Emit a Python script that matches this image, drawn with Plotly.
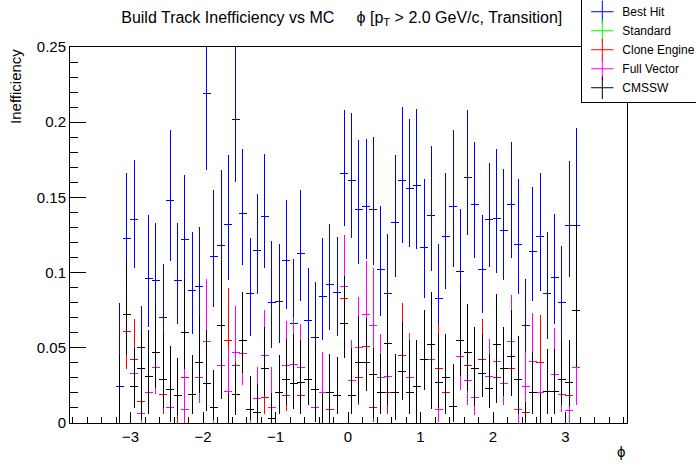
import plotly.graph_objs as go

# ---------------- DATA ----------------
# phi bin centres, 64 bins of 0.1 rad
phi = [-3.15, -3.05, -2.95, -2.85, -2.75, -2.65, -2.55, -2.45, -2.35, -2.25,
       -2.15, -2.05, -1.95, -1.85, -1.75, -1.65, -1.55, -1.45, -1.35, -1.25,
       -1.15, -1.05, -0.95, -0.85, -0.75, -0.65, -0.55, -0.45, -0.35, -0.25,
       -0.15, -0.05, 0.05, 0.15, 0.25, 0.35, 0.45, 0.55, 0.65, 0.75,
       0.85, 0.95, 1.05, 1.15, 1.25, 1.35, 1.45, 1.55, 1.65, 1.75,
       1.85, 1.95, 2.05, 2.15, 2.25, 2.35, 2.45, 2.55, 2.65, 2.75,
       2.85, 2.95, 3.05, 3.15]

# Best Hit
bh_val = [0.024, 0.123, 0.135, 0.050, 0.096, 0.095, 0.070, 0.148, 0.095, 0.122,
          0.088, 0.091, 0.219, 0.111, 0.118, 0.132, 0.202, 0.139, 0.086, 0.115,
          0.137, 0.080, 0.081, 0.108, 0.066, 0.113, 0.068, 0.057, 0.084, 0.092,
          0.087, 0.166, 0.161, 0.142, 0.144, 0.142, 0.102, 0.086, 0.133, 0.161,
          0.156, 0.158, 0.117, 0.138, 0.083, 0.124, 0.144, 0.101, 0.163, 0.145,
          0.102, 0.135, 0.136, 0.128, 0.145, 0.119, 0.065, 0.114, 0.124, 0.086,
          0.097, 0.080, 0.131, 0.131]
bh_lo = [0.004, 0.085, 0.103, 0.028, 0.064, 0.062, 0.045, 0.108, 0.066, 0.088,
         0.059, 0.062, 0.168, 0.077, 0.085, 0.095, 0.160, 0.105, 0.058, 0.086,
         0.103, 0.050, 0.053, 0.076, 0.040, 0.081, 0.045, 0.040, 0.055, 0.062,
         0.058, 0.131, 0.123, 0.106, 0.109, 0.105, 0.071, 0.055, 0.097, 0.120,
         0.117, 0.116, 0.083, 0.101, 0.050, 0.089, 0.104, 0.070, 0.125, 0.110,
         0.073, 0.104, 0.100, 0.095, 0.110, 0.086, 0.040, 0.081, 0.088, 0.056,
         0.066, 0.050, 0.097, 0.075]
bh_hi = [0.080, 0.166, 0.175, 0.078, 0.138, 0.133, 0.106, 0.195, 0.133, 0.165,
         0.127, 0.130, 0.270, 0.155, 0.168, 0.178, 0.250, 0.182, 0.123, 0.152,
         0.179, 0.121, 0.119, 0.148, 0.109, 0.155, 0.103, 0.094, 0.123, 0.132,
         0.124, 0.208, 0.206, 0.188, 0.189, 0.190, 0.144, 0.126, 0.178, 0.210,
         0.202, 0.209, 0.162, 0.184, 0.119, 0.166, 0.195, 0.142, 0.208, 0.187,
         0.138, 0.173, 0.182, 0.169, 0.187, 0.162, 0.096, 0.157, 0.166, 0.127,
         0.139, 0.118, 0.174, 0.196]

# Clone Engine
ce_val = [0.000, 0.061, 0.042, 0.014, 0.020, 0.037, 0.019, 0.010, 0.000, 0.030,
          0.019, 0.030, 0.054, 0.000, 0.038, 0.055, 0.038, 0.055, 0.000, 0.007,
          0.017, 0.010, 0.020, 0.018, 0.026, 0.018, 0.029, 0.022, 0.020, 0.009,
          0.018, 0.083, 0.028, 0.030, 0.051, 0.010, 0.020, 0.020, 0.020, 0.045,
          0.020, 0.000, 0.042, 0.052, 0.036, 0.020, 0.011, 0.055, 0.038, 0.036,
          0.042, 0.023, 0.030, 0.036, 0.036, 0.029, 0.007, 0.020, 0.040, 0.021,
          0.021, 0.029, 0.018, 0.037]
ce_lo = [0.000, 0.036, 0.020, 0.003, 0.008, 0.019, 0.006, 0.001, 0.000, 0.012,
         0.006, 0.013, 0.035, 0.000, 0.017, 0.021, 0.020, 0.033, 0.000, 0.000,
         0.006, 0.002, 0.006, 0.008, 0.009, 0.006, 0.012, 0.002, 0.005, 0.000,
         0.006, 0.050, 0.010, 0.012, 0.030, 0.001, 0.006, 0.006, 0.002, 0.025,
         0.006, 0.000, 0.022, 0.012, 0.020, 0.006, 0.001, 0.031, 0.020, 0.011,
         0.025, 0.010, 0.013, 0.018, 0.018, 0.006, 0.000, 0.006, 0.020, 0.006,
         0.006, 0.012, 0.007, 0.012]
ce_hi = [0.040, 0.090, 0.069, 0.035, 0.040, 0.060, 0.045, 0.030, 0.030, 0.055,
         0.040, 0.050, 0.080, 0.015, 0.060, 0.090, 0.060, 0.080, 0.010, 0.026,
         0.030, 0.030, 0.045, 0.030, 0.055, 0.035, 0.055, 0.050, 0.047, 0.020,
         0.044, 0.120, 0.055, 0.050, 0.080, 0.030, 0.046, 0.040, 0.046, 0.080,
         0.050, 0.007, 0.070, 0.085, 0.065, 0.040, 0.039, 0.090, 0.060, 0.060,
         0.069, 0.046, 0.050, 0.060, 0.060, 0.055, 0.020, 0.045, 0.072, 0.049,
         0.049, 0.055, 0.035, 0.060]

# Standard sits exactly under Clone Engine in the picture
st_val = list(ce_val)
st_lo = list(ce_lo)
st_hi = list(ce_hi)

# Full Vector
fv_val = [0.000, 0.072, 0.033, 0.006, 0.020, 0.037, 0.029, 0.010, 0.018, 0.009,
          0.019, 0.030, 0.054, 0.000, 0.038, 0.021, 0.047, 0.046, 0.000, 0.016,
          0.045, 0.010, 0.020, 0.038, 0.039, 0.037, 0.029, 0.010, 0.020, 0.020,
          0.018, 0.091, 0.028, 0.050, 0.072, 0.065, 0.030, 0.031, 0.020, 0.034,
          0.030, 0.024, 0.042, 0.042, 0.009, 0.030, 0.011, 0.044, 0.028, 0.017,
          0.033, 0.031, 0.041, 0.026, 0.054, 0.009, 0.024, 0.041, 0.020, 0.021,
          0.032, 0.019, 0.008, 0.037]
fv_lo = [0.000, 0.050, 0.015, 0.000, 0.008, 0.019, 0.012, 0.001, 0.006, 0.000,
         0.006, 0.013, 0.035, 0.000, 0.017, 0.005, 0.030, 0.025, 0.000, 0.004,
         0.020, 0.002, 0.006, 0.020, 0.020, 0.020, 0.012, 0.001, 0.005, 0.002,
         0.006, 0.060, 0.010, 0.030, 0.045, 0.040, 0.015, 0.015, 0.002, 0.015,
         0.015, 0.002, 0.022, 0.020, 0.001, 0.008, 0.001, 0.022, 0.012, 0.005,
         0.017, 0.015, 0.022, 0.012, 0.030, 0.000, 0.000, 0.020, 0.005, 0.006,
         0.015, 0.007, 0.000, 0.012]
fv_hi = [0.030, 0.100, 0.050, 0.020, 0.040, 0.060, 0.050, 0.030, 0.040, 0.036,
         0.040, 0.050, 0.096, 0.020, 0.060, 0.050, 0.078, 0.060, 0.010, 0.037,
         0.075, 0.037, 0.045, 0.068, 0.070, 0.066, 0.055, 0.030, 0.047, 0.045,
         0.044, 0.125, 0.055, 0.084, 0.108, 0.103, 0.059, 0.050, 0.046, 0.067,
         0.060, 0.050, 0.070, 0.065, 0.025, 0.055, 0.039, 0.070, 0.050, 0.035,
         0.055, 0.056, 0.060, 0.045, 0.085, 0.025, 0.047, 0.073, 0.040, 0.049,
         0.063, 0.035, 0.025, 0.060]

# CMSSW
cm_val = [0.000, 0.072, 0.024, 0.036, 0.031, 0.047, 0.029, 0.022, 0.018, 0.060,
          0.019, 0.040, 0.026, 0.010, 0.065, 0.000, 0.019, 0.055, 0.009, 0.007,
          0.036, 0.003, 0.020, 0.029, 0.026, 0.027, 0.029, 0.022, 0.000, 0.020,
          0.018, 0.066, 0.018, 0.040, 0.040, 0.032, 0.020, 0.053, 0.020, 0.034,
          0.020, 0.024, 0.042, 0.052, 0.027, 0.030, 0.011, 0.055, 0.047, 0.036,
          0.033, 0.023, 0.052, 0.036, 0.044, 0.029, 0.000, 0.020, 0.000, 0.021,
          0.021, 0.029, 0.027, 0.075]
cm_lo = [0.000, 0.045, 0.010, 0.002, 0.006, 0.023, 0.010, 0.001, 0.005, 0.036,
         0.006, 0.020, 0.008, 0.002, 0.016, 0.000, 0.005, 0.033, 0.002, 0.000,
         0.018, 0.000, 0.006, 0.012, 0.009, 0.006, 0.012, 0.001, 0.000, 0.000,
         0.006, 0.043, 0.006, 0.013, 0.021, 0.003, 0.006, 0.012, 0.002, 0.015,
         0.006, 0.000, 0.022, 0.009, 0.010, 0.006, 0.001, 0.031, 0.021, 0.011,
         0.017, 0.010, 0.013, 0.018, 0.018, 0.006, 0.000, 0.006, 0.000, 0.006,
         0.006, 0.012, 0.011, 0.037]
cm_hi = [0.045, 0.108, 0.050, 0.061, 0.062, 0.078, 0.059, 0.051, 0.043, 0.096,
         0.045, 0.072, 0.062, 0.035, 0.108, 0.020, 0.040, 0.087, 0.031, 0.026,
         0.064, 0.020, 0.045, 0.056, 0.059, 0.055, 0.057, 0.052, 0.020, 0.046,
         0.044, 0.098, 0.050, 0.071, 0.070, 0.050, 0.046, 0.088, 0.046, 0.067,
         0.055, 0.055, 0.075, 0.087, 0.059, 0.059, 0.039, 0.091, 0.079, 0.064,
         0.059, 0.046, 0.086, 0.064, 0.075, 0.058, 0.014, 0.047, 0.020, 0.049,
         0.049, 0.055, 0.055, 0.132]

series = [
    ("Best Hit", "#0000ff", bh_val, bh_lo, bh_hi),
    ("Standard", "#00ff00", st_val, st_lo, st_hi),
    ("Clone Engine", "#ff0000", ce_val, ce_lo, ce_hi),
    ("Full Vector", "#ff00ff", fv_val, fv_lo, fv_hi),
    ("CMSSW", "#000000", cm_val, cm_lo, cm_hi),
]

FONT = "Liberation Sans, Arial, Helvetica, sans-serif"

fig = go.Figure()

# data drawn as ROOT-style error crosses (no marker dot)
for name, col, val, lo, hi in series:
    fig.add_trace(go.Scatter(
        x=phi, y=val,
        mode='markers',
        marker=dict(size=2, color=col, opacity=0),
        error_x=dict(type='constant', value=0.055, width=0,
                     thickness=1, color=col),
        error_y=dict(type='data', symmetric=False,
                     array=[h - v for v, h in zip(val, hi)],
                     arrayminus=[v - l for v, l in zip(val, lo)],
                     width=0, thickness=1, color=col),
        showlegend=False,
        hoverinfo='skip'
    ))

# legend entries
for name, col, val, lo, hi in series:
    fig.add_trace(go.Scatter(
        x=[None], y=[None],
        mode='markers',
        marker=dict(symbol='cross-thin', size=16, color=col,
                    line=dict(width=1, color=col)),
        name=name
    ))

fig.update_layout(
    width=696, height=472,
    paper_bgcolor='white',
    plot_bgcolor='white',
    margin=dict(l=70, r=69, t=47, b=49, autoexpand=False),
    font=dict(family=FONT, size=14, color='black'),
    title=dict(
        text="Build Track Inefficiency vs MC\u00a0\u00a0\u00a0\u00a0\u00a0ϕ [p<sub>T</sub> > 2.0 GeV/c, Transition]",
        x=0.491, xanchor='center',
        y=0.964, yanchor='middle',
        font=dict(family=FONT, size=16, color='black')
    ),
    legend=dict(
        x=0.918, xanchor='left',
        y=1.135, yanchor='top',
        bgcolor='white',
        bordercolor='black',
        borderwidth=1,
        font=dict(family=FONT, size=12, color='black'),
        tracegroupgap=0,
        itemwidth=30
    ),
    showlegend=True
)

fig.update_xaxes(
    range=[-3.835, 3.848],
    showgrid=False, zeroline=False,
    showline=True, linecolor='black', linewidth=1, mirror=True,
    ticks='inside', ticklen=11, tickcolor='black', tickwidth=1,
    tick0=0, dtick=1,
    minor=dict(ticks='inside', ticklen=6, dtick=0.2, tick0=0,
               tickcolor='black', showgrid=False),
    tickfont=dict(family=FONT, size=15)
)

fig.update_yaxes(
    range=[0, 0.25],
    showgrid=False, zeroline=False,
    showline=True, linecolor='black', linewidth=1, mirror=True,
    ticks='inside', ticklen=16, tickcolor='black', tickwidth=1,
    tick0=0, dtick=0.05,
    minor=dict(ticks='inside', ticklen=8, dtick=0.01, tick0=0,
               tickcolor='black', showgrid=False),
    tickfont=dict(family=FONT, size=15)
)

# axis titles placed the ROOT way
fig.add_annotation(
    text="Inefficiency", textangle=-90,
    xref='paper', yref='paper', x=-0.098, y=1.0,
    xanchor='center', yanchor='top', showarrow=False,
    font=dict(family=FONT, size=15)
)
fig.add_annotation(
    text="ϕ",
    xref='paper', yref='paper', x=0.989, y=-0.077,
    xanchor='center', yanchor='middle', showarrow=False,
    font=dict(family=FONT, size=15)
)

# no page margin, and pixel-sharp error bars like the ROOT canvas
post = (
    "document.body.style.margin='0px';"
    "document.querySelectorAll('.errorbar path').forEach(function(p){"
    "p.style.shapeRendering='crispEdges';});"
)

fig.write_html("out.html", post_script=post,
               config={'displayModeBar': False})
